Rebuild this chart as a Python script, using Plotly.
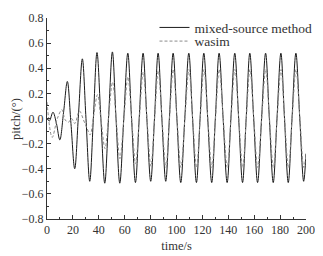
import plotly.graph_objects as go

# mixed-source method (peaks, troughs and crossings)
time_mixed = [0.0, 1.8, 4.6, 7.3, 9.9, 12.8,
              15.7, 18.5, 21.4, 24.3,
              27.3, 30.1, 33.0, 35.8,
              38.6, 41.6, 44.6, 47.5,
              50.5, 53.3, 56.2, 59.3,
              62.4, 65.3, 68.3, 71.2,
              74.2, 77.1, 80.1, 83.0,
              85.8, 88.7, 91.7, 94.5,
              97.4, 100.3, 103.3, 106.4,
              109.5, 112.4, 115.4, 118.2,
              121.1, 124.1, 127.2, 130.0,
              132.9, 136.0, 139.1, 142.0,
              145.0, 148.0, 151.0, 153.8,
              156.6, 159.6, 162.6, 165.7,
              168.8, 171.7, 174.7, 177.6,
              180.6, 183.4, 186.3, 189.2,
              192.2, 195.2, 198.2, 200.0]
pitch_mixed = [0.00, -0.02, 0.05, -0.04, -0.17, 0.05,
               0.295, -0.04, -0.40, 0.03,
               0.475, 0.0, -0.50, 0.0,
               0.525, 0.0, -0.515, 0.0,
               0.53, 0.0, -0.515, 0.0,
               0.52, 0.0, -0.51, 0.0,
               0.52, 0.0, -0.50, 0.0,
               0.52, 0.0, -0.50, 0.0,
               0.52, 0.0, -0.51, 0.0,
               0.52, 0.0, -0.51, 0.0,
               0.52, 0.0, -0.51, 0.0,
               0.52, 0.0, -0.51, 0.0,
               0.52, 0.0, -0.51, 0.0,
               0.52, 0.0, -0.51, 0.0,
               0.52, 0.0, -0.51, 0.0,
               0.52, 0.0, -0.51, 0.0,
               0.52, 0.0, -0.50, -0.28]

# wasim
time_wasim = [0.0, 4.0, 8.0, 11.5, 14.0, 16.5, 19.0, 21.5, 25.0, 28.5, 31.0,
              33.3, 36.0, 39.0, 41.8,
              44.8, 47.6, 50.6, 53.4,
              56.3, 59.4, 62.5, 65.4,
              68.4, 71.3, 74.3, 77.2,
              80.2, 83.1, 85.9, 88.8,
              91.8, 94.6, 97.5, 100.4,
              103.4, 106.5, 109.6, 112.5,
              115.5, 118.3, 121.2, 124.2,
              127.3, 130.1, 133.0, 136.1,
              139.2, 142.1, 145.1, 148.1,
              151.1, 153.9, 156.7, 159.7,
              162.7, 165.8, 168.9, 171.8,
              174.8, 177.7, 180.7, 183.5,
              186.4, 189.3, 192.3, 195.3,
              198.3, 200.0]
pitch_wasim = [0.13, -0.15, 0.0, 0.07, -0.01, -0.03, 0.0, -0.04, 0.06, -0.02, -0.08,
               -0.13, 0.02, 0.19, -0.02,
               -0.24, 0.02, 0.29, 0.0,
               -0.32, 0.0, 0.33, 0.0,
               -0.36, 0.0, 0.37, 0.0,
               -0.38, 0.0, 0.38, 0.0,
               -0.39, 0.0, 0.39, 0.0,
               -0.39, 0.0, 0.39, 0.0,
               -0.39, 0.0, 0.39, 0.0,
               -0.39, 0.0, 0.39, 0.0,
               -0.39, 0.0, 0.39, 0.0,
               -0.39, 0.0, 0.39, 0.0,
               -0.39, 0.0, 0.39, 0.0,
               -0.39, 0.0, 0.39, 0.0,
               -0.39, 0.0, 0.39, 0.0,
               -0.39, -0.29]

x_ticks = [0, 20, 40, 60, 80, 100, 120, 140, 160, 180, 200]
y_ticks = [-0.8, -0.6, -0.4, -0.2, 0.0, 0.2, 0.4, 0.6, 0.8]

FONT = "Liberation Serif"
INK = "#333"

fig = go.Figure()
fig.add_trace(go.Scatter(
    x=time_mixed, y=pitch_mixed, mode="lines", name="mixed-source method",
    legend="legend", showlegend=True,
    line=dict(color="#1a1a1a", width=1, shape="spline", smoothing=1.0)))
fig.add_trace(go.Scatter(
    x=time_wasim, y=pitch_wasim, mode="lines", name="wasim",
    legend="legend2", showlegend=True,
    line=dict(color="#8a8a8a", width=1, dash="3px,2px", shape="spline", smoothing=1.0)))

axis_common = dict(
    showline=True, linecolor=INK, linewidth=1, mirror=False,
    showgrid=False, zeroline=False, automargin=False,
    ticks="inside", ticklen=4, tickwidth=1, tickcolor=INK,
    tickfont=dict(family=FONT, size=12, color=INK),
)

fig.update_xaxes(
    range=[0, 200], tickvals=x_ticks,
    minor=dict(ticks="inside", ticklen=2, dtick=10, tickcolor=INK),
    title=dict(text="time/s", font=dict(family=FONT, size=12.5, color=INK), standoff=4),
    **axis_common)
fig.update_yaxes(
    range=[-0.8, 0.8], tickvals=y_ticks, tickformat=".1f",
    minor=dict(ticks="inside", ticklen=2, dtick=0.1, tickcolor=INK),
    **axis_common)

# y-axis title placed as rotated text so its distance from the axis can be set
fig.add_annotation(text="pitch/(°)", xref="paper", yref="paper",
                   x=-0.122, y=0.5, xanchor="center", yanchor="middle",
                   textangle=-90, showarrow=False,
                   font=dict(family=FONT, size=12.5, color=INK))

leg_common = dict(xanchor="left", yanchor="middle", bgcolor="rgba(0,0,0,0)",
                  font=dict(family=FONT, size=13.5, color=INK), itemwidth=30,
                  visible=True)

# the page body adds an 8 px offset, so the figure is 8 px smaller than the window
fig.update_layout(
    width=315, height=248,
    margin=dict(l=39, r=17, t=4, b=37),
    plot_bgcolor="white", paper_bgcolor="white",
    font=dict(family=FONT, size=12.5, color=INK),
    showlegend=True,
    legend=dict(x=0.415, y=0.952, **leg_common),
    legend2=dict(x=0.415, y=0.884, **leg_common),
)

fig.write_html("out.html")
